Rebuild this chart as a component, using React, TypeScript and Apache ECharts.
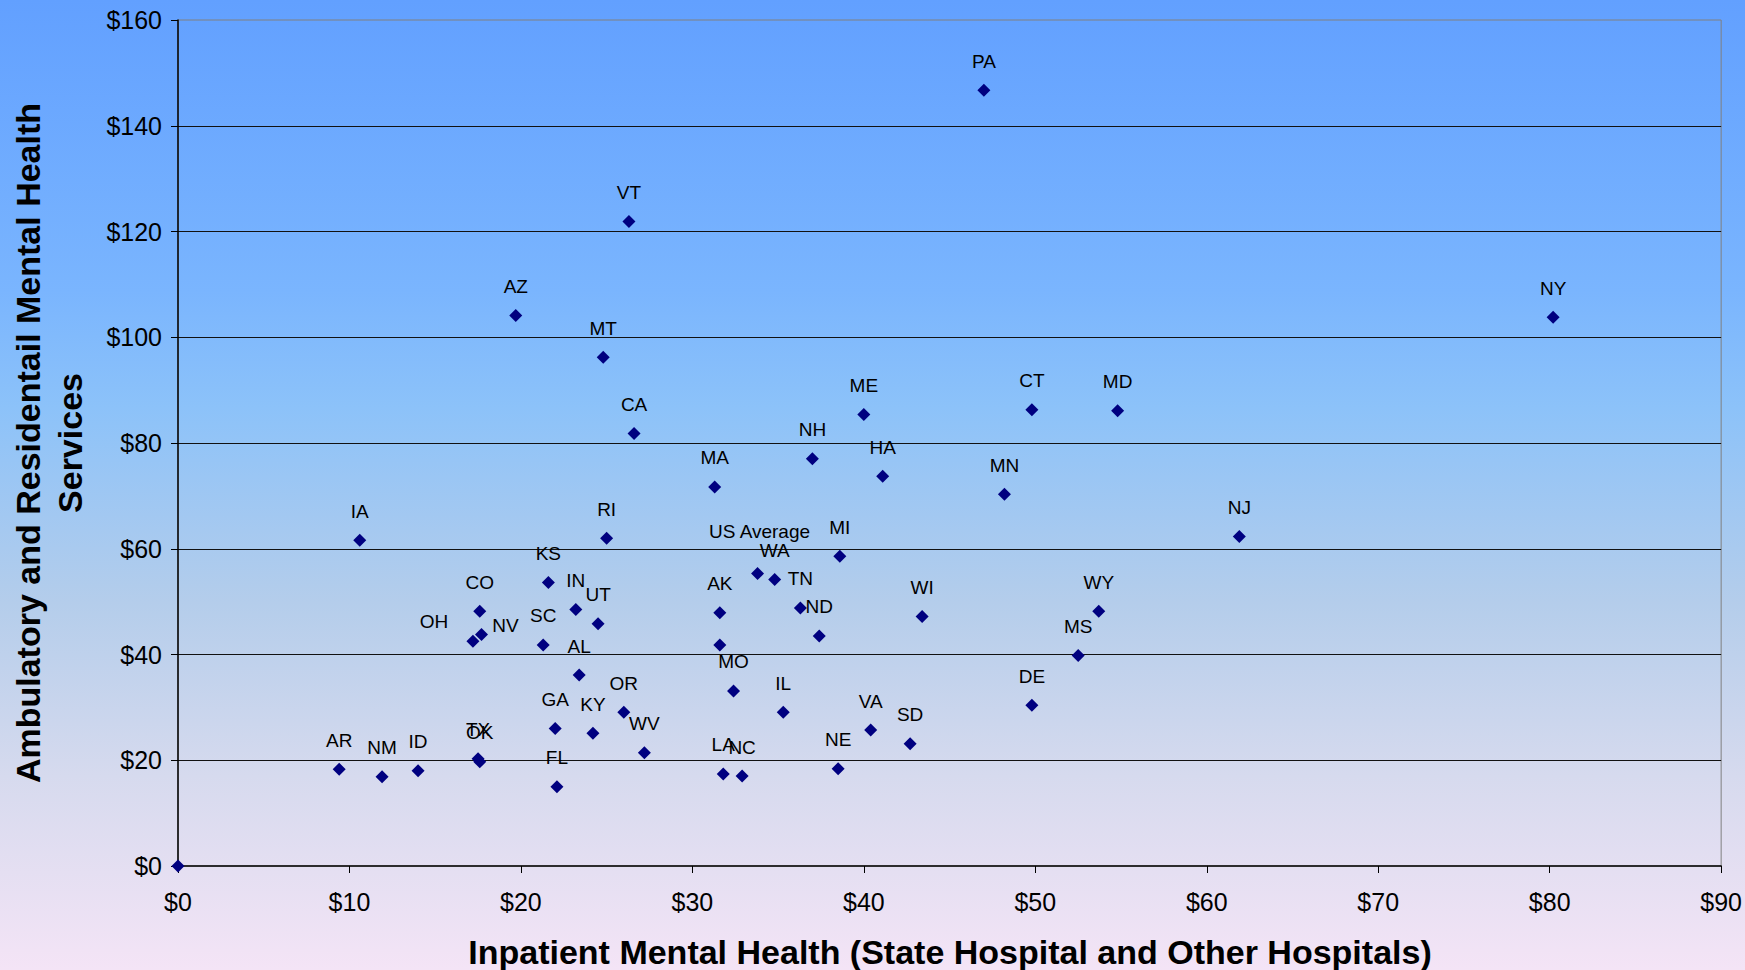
import React, { useEffect, useRef } from "react";
import * as echarts from "echarts";

const states = [
  "", "PA", "VT", "AZ", "NY", "MT", "ME", "CT", "MD", "CA", "NH", "HA", "MA", "MN", "NJ", "RI", "IA",
  "MI", "US Average", "WA", "KS", "TN", "IN", "CO", "WY", "AK", "WI", "UT", "NV", "ND", "OH", "SC", "",
  "MS", "AL", "MO", "DE", "IL", "OR", "GA", "VA", "KY", "SD", "WV", "TX", "OK", "AR", "NE", "ID", "LA",
  "NC", "NM", "FL",
];
const inpatient = [
  0, 47.0, 26.3, 19.7, 80.2, 24.8, 40.0, 49.8, 54.8, 26.6, 37.0, 41.1, 31.3, 48.2, 61.9, 25.0, 10.6,
  38.6, 33.8, 34.8, 21.6, 36.3, 23.2, 17.6, 53.7, 31.6, 43.4, 24.5, 17.7, 37.4, 17.2, 21.3, 31.6,
  52.5, 23.4, 32.4, 49.8, 35.3, 26.0, 22.0, 40.4, 24.2, 42.7, 27.2, 17.5, 17.6, 9.4, 38.5, 14.0, 31.8,
  32.9, 11.9, 22.1,
];
const ambulatory = [
  0, 146.7, 121.9, 104.1, 103.8, 96.2, 85.4, 86.3, 86.1, 81.8, 77.0, 73.7, 71.7, 70.3, 62.3, 62.0, 61.6,
  58.6, 55.3, 54.2, 53.6, 48.8, 48.5, 48.2, 48.2, 47.9, 47.2, 45.8, 43.8, 43.5, 42.5, 41.8, 41.8,
  39.8, 36.1, 33.1, 30.4, 29.1, 29.1, 26.0, 25.7, 25.1, 23.1, 21.4, 20.3, 19.7, 18.3, 18.4, 18.0, 17.4,
  17.0, 16.9, 15.0,
];
const xTicks = { min: 0, max: 90, interval: 10 };
const yTicks = { min: 0, max: 160, interval: 20 };

const labelOffsets: Record<string, number[]> = {
  OH: [-39, 9],
  NV: [24, 20],
  "US Average": [2, -13],
};

const FONT = "'Liberation Sans', Arial, sans-serif";

export default function App() {
  const ref = useRef<HTMLDivElement>(null);
  useEffect(() => {
    if (!ref.current) return;
    const chart = echarts.init(ref.current, undefined, { renderer: "svg" });
    const data = states.map((s, i) => {
      const item: any = { name: s, value: [inpatient[i], ambulatory[i]] };
      if (labelOffsets[s]) item.label = { offset: labelOffsets[s] };
      return item;
    });
    chart.setOption({
      animation: false,
      backgroundColor: "transparent",
      grid: {
        left: 178,
        right: 23,
        top: 20,
        bottom: 104,
        show: true,
        borderColor: "#808080",
        borderWidth: 1,
        backgroundColor: "transparent",
      },
      xAxis: {
        type: "value",
        min: xTicks.min,
        max: xTicks.max,
        interval: xTicks.interval,
        axisLine: { show: true, onZero: false, lineStyle: { color: "#000", width: 1.5 } },
        axisTick: { show: true, inside: false, length: 7, lineStyle: { color: "#000" } },
        splitLine: { show: false },
        axisLabel: {
          formatter: (v: number) => "$" + v,
          color: "#000",
          fontSize: 25,
          fontFamily: FONT,
          margin: 23,
        },
      },
      yAxis: {
        type: "value",
        min: yTicks.min,
        max: yTicks.max,
        interval: yTicks.interval,
        axisLine: { show: true, onZero: false, lineStyle: { color: "#000", width: 1.5 } },
        axisTick: { show: true, inside: false, length: 7, lineStyle: { color: "#000" } },
        splitLine: { show: true, showMinLine: false, showMaxLine: false, lineStyle: { color: "#111", width: 1 } },
        axisLabel: {
          formatter: (v: number) => "$" + v,
          color: "#000",
          fontSize: 25,
          fontFamily: FONT,
          margin: 16,
        },
      },
      graphic: [
        {
          type: "text",
          x: 950,
          y: 952,
          style: {
            text: "Inpatient Mental Health (State Hospital and Other Hospitals)",
            font: `bold 34px ${FONT}`,
            fill: "#000",
            textAlign: "center",
            textVerticalAlign: "middle",
          },
        },
        {
          type: "text",
          x: 49,
          y: 443,
          rotation: Math.PI / 2,
          style: {
            text: "Ambulatory and Residentail Mental Health\nServices",
            font: `bold 34px ${FONT}`,
            lineHeight: 42,
            fill: "#000",
            textAlign: "center",
            textVerticalAlign: "middle",
          },
        },
      ],
      series: [
        {
          type: "scatter",
          symbol: "diamond",
          symbolSize: 13,
          clip: false,
          itemStyle: { color: "#000080", opacity: 1 },
          label: {
            show: true,
            position: "top",
            distance: 13,
            formatter: (p: any) => p.name,
            color: "#000",
            fontSize: 19,
            fontFamily: FONT,
          },
          data,
        },
      ],
    });
    return () => chart.dispose();
  }, []);
  return (
    <div
      style={{
        position: "fixed",
        left: 0,
        top: 0,
        width: 1745,
        height: 970,
        background:
          "linear-gradient(to bottom, #62A0FF 0%, #7AB5FE 30%, #8CC2F9 42%, #B4CDEB 62%, #D6DAEE 80%, #F4E4F6 100%)",
      }}
    >
      <div ref={ref} style={{ width: 1745, height: 970 }} />
    </div>
  );
}
